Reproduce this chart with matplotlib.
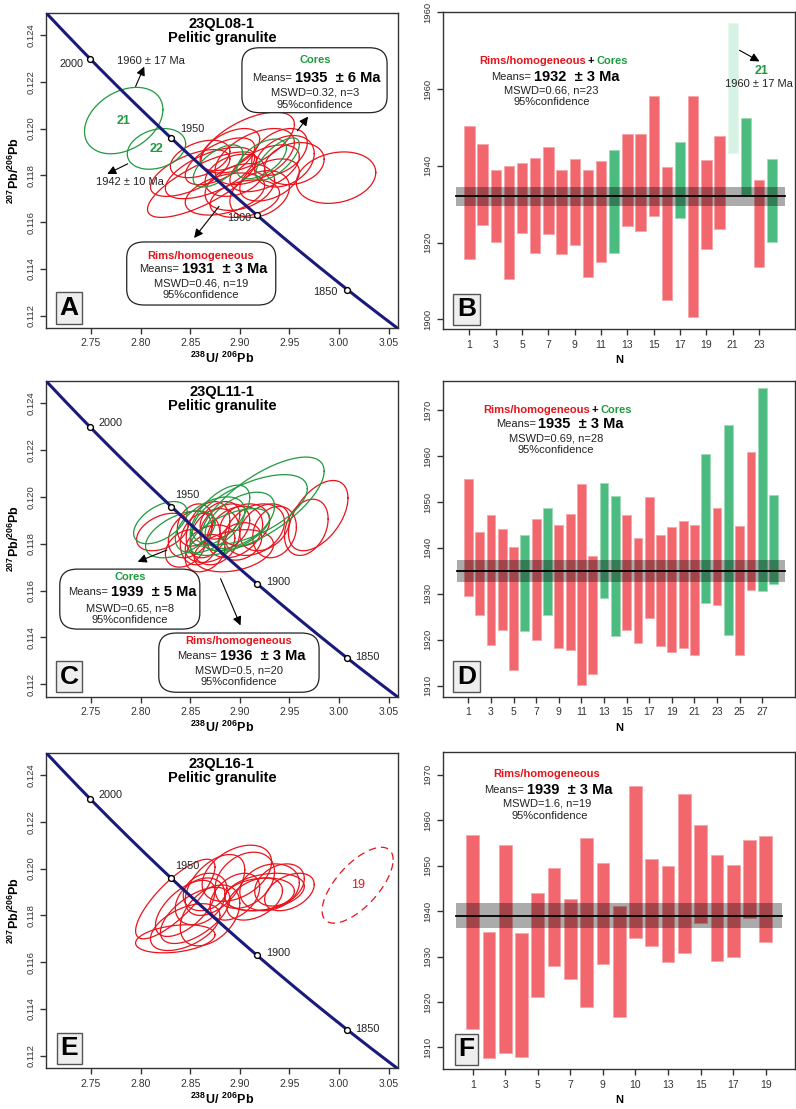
import numpy as np
import matplotlib
matplotlib.use("Agg")
import matplotlib.pyplot as plt
from matplotlib.patches import FancyBboxPatch

plt.rcParams['font.family'] = ['Liberation Sans', 'DejaVu Sans']
plt.rcParams['mathtext.fontset'] = 'custom'
plt.rcParams['mathtext.rm'] = 'Liberation Sans'
plt.rcParams['mathtext.bf'] = 'Liberation Sans:bold'

# decay constants for the concordia curve
L238 = 1.55125e-10
L235 = 9.8485e-10
U_RATIO = 137.88
CONCORDIA_AGES = [1850, 1900, 1950, 2000]

RED = '#e8131b'
GREEN = '#1f9a3e'
BAR_RED = '#f2666d'
BAR_GREEN = '#4cbb80'
BAR_PALE = '#d6f2e2'

# ellipses: (238U/206Pb, 207Pb/206Pb, half-width x, half-height y, rho)
A_RIMS = [
    (2.908, 0.1194, 0.047, 0.0013, 0.6), (2.997, 0.1179, 0.040, 0.0011, 0.2),
    (2.862, 0.1176, 0.055, 0.0014, 0.75), (2.870, 0.1181, 0.045, 0.0011, 0.6),
    (2.885, 0.1172, 0.040, 0.0009, 0.4), (2.900, 0.1175, 0.035, 0.0010, 0.3),
    (2.925, 0.1183, 0.035, 0.0010, 0.5), (2.945, 0.1186, 0.030, 0.0011, 0.3),
    (2.955, 0.1185, 0.030, 0.0009, 0.2), (2.915, 0.1188, 0.040, 0.0012, 0.5),
    (2.880, 0.1186, 0.035, 0.0010, 0.6), (2.850, 0.1181, 0.040, 0.0010, 0.6),
    (2.895, 0.1180, 0.030, 0.0009, 0.3), (2.930, 0.1178, 0.030, 0.0009, 0.4),
    (2.905, 0.1170, 0.035, 0.0008, 0.3), (2.860, 0.1187, 0.030, 0.0008, 0.4),
    (2.940, 0.1190, 0.028, 0.0010, 0.4), (2.890, 0.1191, 0.030, 0.0009, 0.5),
    (2.920, 0.1172, 0.030, 0.0010, 0.3),
]
A_CORES = [
    (2.878, 0.1184, 0.025, 0.0009, 0.6), (2.922, 0.1187, 0.025, 0.00085, 0.55),
    (2.938, 0.1187, 0.022, 0.0009, 0.7),
]
A_OUTLIERS = [
    (2.783, 0.12034, 0.0395, 0.00142, 0.33), (2.816, 0.11913, 0.0294, 0.00087, 0.25),
]
A_OUTLIER_LABELS = ['21', '22']

C_RIMS = [
    (2.979, 0.1192, 0.030, 0.0015, 0.5), (2.967, 0.1187, 0.022, 0.0012, 0.3),
    (2.822, 0.1185, 0.026, 0.0008, 0.4), (2.894, 0.1177, 0.040, 0.0009, 0.3),
    (2.850, 0.1184, 0.022, 0.0010, 0.3), (2.860, 0.1182, 0.020, 0.0011, 0.2),
    (2.868, 0.1186, 0.022, 0.0012, 0.3), (2.875, 0.1183, 0.025, 0.0012, 0.2),
    (2.885, 0.1187, 0.025, 0.0010, 0.3), (2.895, 0.1185, 0.028, 0.0011, 0.3),
    (2.905, 0.1188, 0.025, 0.0009, 0.2), (2.915, 0.1186, 0.030, 0.0011, 0.3),
    (2.925, 0.1187, 0.025, 0.0010, 0.3), (2.935, 0.1185, 0.022, 0.0011, 0.2),
    (2.870, 0.1180, 0.025, 0.0008, 0.3), (2.855, 0.1188, 0.018, 0.0009, 0.2),
    (2.880, 0.1190, 0.020, 0.0008, 0.3), (2.900, 0.1181, 0.022, 0.0008, 0.2),
    (2.865, 0.1176, 0.020, 0.0008, 0.3), (2.845, 0.1178, 0.020, 0.0008, 0.3),
]
C_CORES = [
    (2.923, 0.1197, 0.062, 0.0020, 0.7), (2.910, 0.11945, 0.058, 0.0015, 0.6),
    (2.820, 0.1189, 0.027, 0.0009, 0.5), (2.840, 0.1184, 0.035, 0.0010, 0.5),
    (2.870, 0.1188, 0.035, 0.0012, 0.5), (2.890, 0.1185, 0.040, 0.0010, 0.6),
    (2.900, 0.1190, 0.035, 0.0012, 0.5), (2.880, 0.1192, 0.030, 0.0013, 0.6),
]

E_RIMS = [
    (2.835, 0.1187, 0.040, 0.0017, 0.8), (2.835, 0.1170, 0.040, 0.0006, 0.3),
    (2.845, 0.1175, 0.035, 0.0010, 0.5), (2.855, 0.1180, 0.035, 0.0012, 0.6),
    (2.860, 0.1186, 0.025, 0.0010, 0.3), (2.870, 0.1180, 0.030, 0.0013, 0.4),
    (2.845, 0.1183, 0.030, 0.0012, 0.6), (2.865, 0.1190, 0.022, 0.0008, 0.2),
    (2.875, 0.1193, 0.030, 0.0013, 0.5), (2.897, 0.1198, 0.035, 0.0012, 0.4),
    (2.905, 0.1195, 0.030, 0.0012, 0.3), (2.925, 0.1190, 0.040, 0.0008, 0.3),
    (2.930, 0.1192, 0.030, 0.0010, 0.2), (2.915, 0.1187, 0.028, 0.0009, 0.4),
    (2.940, 0.1193, 0.025, 0.0009, 0.3), (2.920, 0.1189, 0.035, 0.0007, 0.2),
    (2.895, 0.1188, 0.025, 0.0010, 0.4), (2.950, 0.1190, 0.025, 0.0008, 0.4),
]
E_OUTLIER = (3.0187, 0.11929, 0.0358, 0.00162, 0.67)

# weighted mean bars: low, high and kind (r = rim, g = core, x = excluded)
B_LOW = [1915.7, 1924.7, 1920.1, 1910.4, 1922.6, 1917.2, 1922.2, 1917.0, 1919.3,
         1911.1, 1915.0, 1917.2, 1924.3, 1923.1, 1927.0, 1904.9, 1926.4, 1900.5,
         1918.4, 1923.6, 1943.3, 1932.4, 1913.6, 1920.2]
B_HIGH = [1950.3, 1945.6, 1938.8, 1939.9, 1940.7, 1942.1, 1945.0, 1938.8, 1941.7,
          1939.0, 1941.3, 1944.2, 1948.3, 1948.4, 1958.2, 1939.6, 1946.3, 1958.2,
          1941.6, 1947.8, 1977.1, 1952.5, 1936.4, 1941.7]
B_KIND = 'rrrrrrrrrrrgrrrrgrrrxgrg'
B_MEAN, B_ERR = 1932, 2.4

D_LOW = [1929.6, 1925.4, 1918.9, 1922.2, 1913.5, 1921.8, 1920.0, 1925.4, 1918.1,
         1917.8, 1910.1, 1912.6, 1929.1, 1920.9, 1922.2, 1919.2, 1924.7, 1918.7,
         1917.3, 1918.3, 1916.7, 1928.1, 1927.5, 1921.1, 1916.7, 1930.9, 1930.7,
         1932.2]
D_HIGH = [1955.0, 1943.4, 1947.2, 1944.1, 1940.1, 1942.7, 1946.3, 1948.6, 1944.9,
          1947.3, 1954.0, 1938.3, 1954.1, 1951.4, 1947.2, 1942.2, 1951.1, 1942.8,
          1944.5, 1945.8, 1944.9, 1960.4, 1948.7, 1966.8, 1944.8, 1960.8, 1974.8,
          1951.6]
D_KIND = 'rrrrrgrgrrrrggrrrrrrrgrgrrgg'
D_MEAN, D_ERR = 1935, 2.4

F_LOW = [1914.0, 1907.6, 1908.7, 1907.9, 1921.2, 1928.0, 1925.0, 1918.9, 1928.3,
         1916.7, 1934.1, 1932.4, 1928.9, 1930.8, 1937.3, 1929.1, 1930.0, 1938.4,
         1933.2]
F_HIGH = [1956.8, 1935.3, 1954.6, 1935.2, 1944.0, 1949.5, 1942.7, 1956.1, 1950.5,
          1941.2, 1967.6, 1951.5, 1950.0, 1965.7, 1958.9, 1952.3, 1950.1, 1955.6,
          1956.4]
F_KIND = 'r' * 19
F_MEAN, F_ERR = 1939, 2.7

B_TICKS = [1900, 1920, 1940, 1960, 1980]
B_TICK_LABELS = ['1900', '1920', '1940', '1960', '1960']
D_TICKS = [1910, 1920, 1930, 1940, 1950, 1960, 1970]
F_TICKS = [1910, 1920, 1930, 1940, 1950, 1960, 1970]
F_X_LABELS = ['1', '3', '5', '7', '9', '10', '13', '15', '17', '19']


def concordia(age_ma):
    t = np.asarray(age_ma, dtype=float) * 1e6
    r206 = np.exp(L238 * t) - 1
    r207 = np.exp(L235 * t) - 1
    return 1 / r206, r207 / r206 / U_RATIO


def draw_ellipse(ax, e, colour, ls='-'):
    cx, cy, sx, sy, rho = e
    t = np.linspace(0, 2 * np.pi, 200)
    x = cx + sx * np.cos(t)
    y = cy + sy * (rho * np.cos(t) + np.sqrt(1 - rho ** 2) * np.sin(t))
    ax.plot(x, y, color=colour, lw=0.9, ls=ls)


def style_axes(ax):
    for s in ax.spines.values():
        s.set_color('#333333')
        s.set_linewidth(1.0)
    ax.tick_params(direction='out', length=4, width=1, color='#333333',
                   labelcolor='#333333')
    ax.tick_params(axis='x', labelsize=7.5)
    ax.tick_params(axis='y', labelsize=6.8)
    for lab in ax.get_yticklabels():
        lab.set_rotation(90)
        lab.set_va('center')


def panel_letter(ax, letter):
    ax.text(0.067, 0.063, letter, transform=ax.transAxes, ha='center',
            va='center', fontsize=19, fontweight='bold', zorder=10,
            bbox=dict(boxstyle='square,pad=0.14', fc='#eeeeee', ec='#555555', lw=1))


def result_box(ax, box, cx, ys, split, label, colour, age, mswd):
    x0, y0, w, h = box
    ax.add_patch(FancyBboxPatch((x0, y0), w, h, transform=ax.transAxes,
                                boxstyle='round,pad=0,rounding_size=0.05',
                                fc='white', ec='#222222', lw=0.9, zorder=5))
    ax.text(cx, ys[0], label, transform=ax.transAxes, ha='center', va='center',
            color=colour, fontsize=8, fontweight='bold', zorder=6)
    ax.text(split - 0.004, ys[1], 'Means=', transform=ax.transAxes, ha='right',
            va='center', fontsize=8, color='#222222', zorder=6)
    ax.text(split + 0.004, ys[1], age, transform=ax.transAxes, ha='left',
            va='center', fontsize=10.5, fontweight='bold', zorder=6)
    ax.text(cx, ys[2], mswd, transform=ax.transAxes, ha='center', va='center',
            fontsize=8, color='#222222', zorder=6)
    ax.text(cx, ys[3], '95%confidence', transform=ax.transAxes, ha='center',
            va='center', fontsize=8, color='#222222', zorder=6)


def arrow(ax, tail, head):
    ax.annotate('', xy=head, xytext=tail,
                arrowprops=dict(arrowstyle='-|>', color='black', lw=0.8,
                                mutation_scale=13, shrinkA=0, shrinkB=0))


def concordia_panel(ax, sample, letter, label_offsets):
    ages = np.linspace(1780, 2100, 300)
    cx, cy = concordia(ages)
    ax.plot(cx, cy, color='#1a1a7a', lw=2.2, zorder=3)
    tx, ty = concordia(CONCORDIA_AGES)
    ax.plot(tx, ty, 'o', ms=4.2, mfc='white', mec='black', mew=1, zorder=4)
    for age, x, y, (dx, dy, ha) in zip(CONCORDIA_AGES, tx, ty, label_offsets):
        ax.annotate(str(age), (x, y), xytext=(dx, dy), textcoords='offset pixels',
                    ha=ha, va='center', fontsize=7.8, color='#222222')
    ax.set_xlim(2.7044, 3.0594)
    ax.set_ylim(0.11147, 0.12495)
    ax.set_xticks([2.75, 2.80, 2.85, 2.90, 2.95, 3.00, 3.05])
    ax.set_xticklabels(['2.75', '2.80', '2.85', '2.90', '2.95', '3.00', '3.05'])
    ax.set_yticks([0.112, 0.114, 0.116, 0.118, 0.120, 0.122, 0.124])
    ax.set_yticklabels(['0.112', '0.114', '0.116', '0.118', '0.120', '0.122', '0.124'])
    ax.set_xlabel(r'$\mathbf{^{238}U/\ ^{206}Pb}$', fontsize=9, labelpad=2)
    ax.set_ylabel(r'$\mathbf{^{207}Pb/^{206}Pb}$', fontsize=9, labelpad=3)
    ax.text(0.5, 0.965, sample, transform=ax.transAxes, ha='center', va='center',
            fontsize=10.5, fontweight='bold')
    ax.text(0.5, 0.921, 'Pelitic granulite', transform=ax.transAxes, ha='center',
            va='center', fontsize=10.5, fontweight='bold')
    style_axes(ax)
    panel_letter(ax, letter)


def bar_panel(ax, low, high, kind, mean, err, xlim, ylim, letter):
    n = np.arange(1, len(low) + 1)
    low = np.array(low)
    high = np.array(high)
    colours = {'r': BAR_RED, 'g': BAR_GREEN, 'x': BAR_PALE}
    edges = {'r': '#f7a5a9', 'g': '#9dd9b7', 'x': '#e8f8ef'}
    ax.bar(n, high - low, bottom=low, width=0.78,
           color=[colours[k] for k in kind], edgecolor=[edges[k] for k in kind],
           lw=0.6, zorder=2)
    ax.fill_between([0, len(low) + 1], mean - err, mean + err, color='black',
                    alpha=0.33, lw=0, zorder=3)
    ax.plot([0, len(low) + 1], [mean, mean], color='black', lw=1.3, zorder=4)
    ax.set_xlim(*xlim)
    ax.set_ylim(*ylim)
    ax.set_xlabel('N', fontsize=8, fontweight='bold', labelpad=4)
    style_axes(ax)
    panel_letter(ax, letter)


def mixed_header(ax, x_split, y, plus_x, x_cores):
    ax.text(x_split, y, 'Rims/homogeneous', ha='right', va='center', color=RED,
            fontsize=8, fontweight='bold')
    ax.text(plus_x, y, '+', ha='center', va='center', fontsize=8, fontweight='bold')
    ax.text(x_cores, y, 'Cores', ha='left', va='center', color=GREEN, fontsize=8,
            fontweight='bold')


def mean_text(ax, split, y_means, cx, y_mswd, y_conf, age, mswd, cx_conf=None):
    ax.text(split - 0.1, y_means, 'Means=', ha='right', va='center', fontsize=8,
            color='#222222')
    ax.text(split + 0.1, y_means, age, ha='left', va='center', fontsize=10.5,
            fontweight='bold')
    ax.text(cx, y_mswd, mswd, ha='center', va='center', fontsize=8, color='#222222')
    ax.text(cx if cx_conf is None else cx_conf, y_conf, '95%confidence',
            ha='center', va='center', fontsize=8, color='#222222')


def main():
    fig = plt.figure(figsize=(7.96, 11.09), dpi=100)
    ax_a = fig.add_axes([0.0574, 0.7042, 0.4426, 0.2843])
    ax_c = fig.add_axes([0.0574, 0.3718, 0.4426, 0.2847])
    ax_e = fig.add_axes([0.0574, 0.0367, 0.4426, 0.2846])
    ax_b = fig.add_axes([0.5562, 0.7031, 0.4426, 0.2858])
    ax_d = fig.add_axes([0.5562, 0.3718, 0.4426, 0.2849])
    ax_f = fig.add_axes([0.5562, 0.0358, 0.4426, 0.2858])

    # panel A
    for e in A_RIMS:
        draw_ellipse(ax_a, e, RED)
    for e in A_CORES:
        draw_ellipse(ax_a, e, GREEN)
    for e, lab in zip(A_OUTLIERS, A_OUTLIER_LABELS):
        draw_ellipse(ax_a, e, GREEN)
        ax_a.text(e[0], e[1], lab, ha='center', va='center', color=GREEN,
                  fontsize=9, fontweight='bold')
    concordia_panel(ax_a, '23QL08-1', 'A',
                    [(-10, -2, 'right'), (-6, -3, 'right'), (9, 9, 'left'), (-6, -5, 'right')])
    arrow(ax_a, (2.795, 0.1218), (2.8037, 0.12265))
    ax_a.text(2.81, 0.1229, '1960 ± 17 Ma', ha='center', va='center', fontsize=8,
              color='#222222')
    arrow(ax_a, (2.787, 0.11849), (2.7664, 0.11806))
    ax_a.text(2.7896, 0.1177, '1942 ± 10 Ma', ha='center', va='center', fontsize=8,
              color='#222222')
    arrow(ax_a, (2.958, 0.1199), (2.9688, 0.12051))
    arrow(ax_a, (2.879, 0.11667), (2.854, 0.11532))
    result_box(ax_a, (0.557, 0.683, 0.412, 0.206), 0.764,
               [0.851, 0.794, 0.746, 0.708], 0.704, 'Cores', GREEN,
               '1935  ± 6 Ma', 'MSWD=0.32, n=3')
    result_box(ax_a, (0.230, 0.073, 0.423, 0.200), 0.440,
               [0.2295, 0.186, 0.142, 0.106], 0.3816, 'Rims/homogeneous', RED,
               '1931  ± 3 Ma', 'MSWD=0.46, n=19')

    # panel C
    for e in C_RIMS:
        draw_ellipse(ax_c, e, RED)
    for e in C_CORES:
        draw_ellipse(ax_c, e, GREEN)
    concordia_panel(ax_c, '23QL11-1', 'C',
                    [(8, 1, 'left'), (9, 2, 'left'), (4, 12, 'left'), (9, 4, 'left')])
    arrow(ax_c, (2.8264, 0.11773), (2.7971, 0.11723))
    arrow(ax_c, (2.8806, 0.11651), (2.9007, 0.11451))
    result_box(ax_c, (0.040, 0.214, 0.3975, 0.190), 0.2386,
               [0.379, 0.333, 0.278, 0.244], 0.181, 'Cores', GREEN,
               '1939  ± 5 Ma', 'MSWD=0.65, n=8')
    result_box(ax_c, (0.321, 0.014, 0.455, 0.1876), 0.548,
               [0.175, 0.130, 0.083, 0.0465], 0.4905, 'Rims/homogeneous', RED,
               '1936  ± 3 Ma', 'MSWD=0.5, n=20')

    # panel E
    for e in E_RIMS:
        draw_ellipse(ax_e, e, RED)
    draw_ellipse(ax_e, E_OUTLIER, RED, ls=(0, (6, 4)))
    ax_e.text(E_OUTLIER[0], E_OUTLIER[1], '19', ha='center', va='center',
              color=RED, fontsize=9)
    concordia_panel(ax_e, '23QL16-1', 'E',
                    [(8, 1, 'left'), (9, 2, 'left'), (4, 12, 'left'), (9, 4, 'left')])

    # panel B
    bar_panel(ax_b, B_LOW, B_HIGH, B_KIND, B_MEAN, B_ERR, (-1.03, 25.73),
              (1897.4, 1980), 'B')
    ax_b.set_xticks(range(1, 24, 2))
    ax_b.set_yticks(B_TICKS)
    ax_b.set_yticklabels(B_TICK_LABELS, rotation=90, va='center')
    mixed_header(ax_b, 9.82, 1967.3, 10.24, 10.68)
    mean_text(ax_b, 5.81, 1963.2, 7.25, 1959.65, 1956.7, '1932  ± 3 Ma',
              'MSWD=0.66, n=23')
    arrow(ax_b, (21.51, 1970.1), (23.03, 1967.2))
    ax_b.text(23.2, 1964.6, '21', ha='center', va='center', color=GREEN,
              fontsize=9, fontweight='bold')
    ax_b.text(23.0, 1961.3, '1960 ± 17 Ma', ha='center', va='center', fontsize=8,
              color='#222222')

    # panel D
    bar_panel(ax_d, D_LOW, D_HIGH, D_KIND, D_MEAN, D_ERR, (-1.27, 29.9),
              (1907.6, 1976.4), 'D')
    ax_d.set_xticks(range(1, 28, 2))
    ax_d.set_yticks(D_TICKS)
    ax_d.set_yticklabels([str(t) for t in D_TICKS], rotation=90, va='center')
    mixed_header(ax_d, 11.72, 1970.1, 12.21, 12.72)
    mean_text(ax_d, 7.08, 1966.9, 8.76, 1963.8, 1961.4, '1935  ± 3 Ma',
              'MSWD=0.69, n=28')

    # panel F
    bar_panel(ax_f, F_LOW, F_HIGH, F_KIND, F_MEAN, F_ERR, (-0.84, 20.8),
              (1905.2, 1974.9), 'F')
    ax_f.set_xticks(range(1, 20, 2))
    ax_f.set_xticklabels(F_X_LABELS)
    ax_f.set_yticks(F_TICKS)
    ax_f.set_yticklabels([str(t) for t in F_TICKS], rotation=90, va='center')
    ax_f.text(5.55, 1970.1, 'Rims/homogeneous', ha='center', va='center',
              color=RED, fontsize=8, fontweight='bold')
    mean_text(ax_f, 4.25, 1966.6, 5.55, 1963.6, 1960.8, '1939  ± 3 Ma',
              'MSWD=1.6, n=19', cx_conf=5.71)

    fig.savefig('out.png', dpi=100)


if __name__ == '__main__':
    main()
